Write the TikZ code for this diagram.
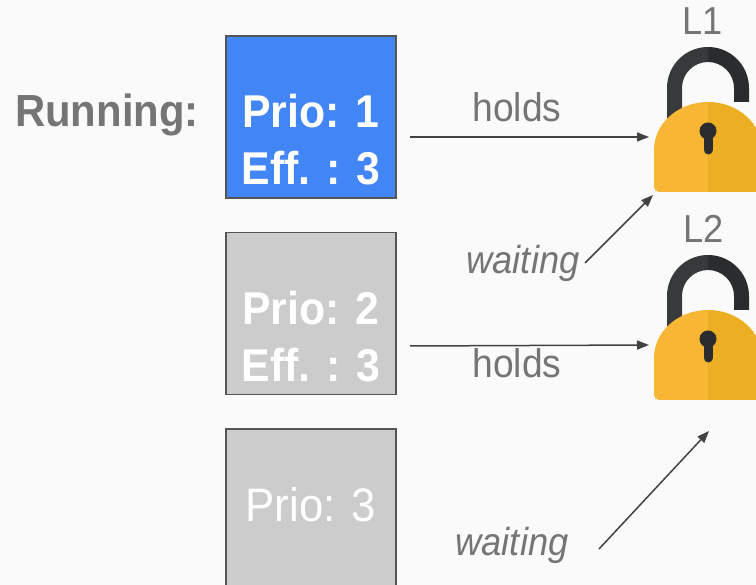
\documentclass[tikz,border=0pt]{standalone}
\usepackage{fontspec}
\setmainfont{Liberation Sans}[FakeStretch=0.93]
\usetikzlibrary{positioning,arrows.meta}
\definecolor{bg}{HTML}{FAFAFA}
\definecolor{runblue}{HTML}{4285F4}
\definecolor{idlegray}{HTML}{CCCCCC}
\definecolor{boxline}{HTML}{555555}
\definecolor{txtgray}{HTML}{757575}
\definecolor{arrowgray}{HTML}{424242}
\definecolor{shackleL}{HTML}{363A3A}
\definecolor{shackleR}{HTML}{2B2C2E}
\definecolor{bodyL}{HTML}{F7B634}
\definecolor{bodyR}{HTML}{ECAE23}

\tikzset{
	task/.style={draw=boxline, line width=1.5pt, minimum width=170pt, minimum height=162pt, inner sep=0pt},
	tasktext/.style={text=white, font=\bfseries\fontsize{46}{57}\selectfont, align=center},
	note/.style={text=txtgray, font=\fontsize{40}{46}\selectfont, anchor=base},
	link/.style={draw=arrowgray, line width=1.5pt, -{Triangle[length=12pt,width=9pt]}},
	lock/.pic={
		\fill[shackleL] (-41,19) -- (-41,-43) arc[start angle=180,end angle=270,radius=41] -- (0,-69) arc[start angle=270,end angle=180,radius=26] -- (-26,19) -- cycle;
		\fill[shackleR] (0,-84) arc[start angle=270,end angle=360,radius=41] -- (41,-29) -- (26,-29) -- (26,-43) arc[start angle=0,end angle=-90,radius=26] -- cycle;
		\fill[bodyL] (0,-29) arc[start angle=270,end angle=180,x radius=54,y radius=48] -- (-54,56) arc[start angle=180,end angle=90,radius=5] -- (0,61) -- cycle;
		\fill[bodyR] (0,-29) arc[start angle=270,end angle=360,x radius=54,y radius=48] -- (54,56) arc[start angle=0,end angle=90,radius=5] -- (0,61) -- cycle;
		\fill[shackleR] (0,0) circle[radius=8.5];
		\draw[shackleR, line width=9pt, line cap=round] (0,0) -- (0,19);
		\coordinate (-hold) at (-59,6);
		\coordinate (-wait) at (-55,64);
	}
}

\begin{document}
\begin{tikzpicture}[x=1pt, y=-1pt]
	\useasboundingbox (0,0) rectangle (756,585);
	\fill[bg] (0,0) rectangle (756,585);
	\clip (0,0) rectangle (756,585);

	\node[anchor=base, text=txtgray, font=\bfseries\fontsize{45}{52}\selectfont] (run) at (107,127) {Running:};

	\node[task, fill=runblue] (b1) at (311,117) {};
	\node[task, fill=idlegray, below=33pt of b1] (b2) {};
	\node[task, fill=idlegray, below=33pt of b2] (b3) {};
	\node[tasktext] (t1) at ([yshift=-23pt]b1.center) {Prio: 1\\Eff. : 3};
	\node[tasktext] (t2) at ([yshift=-23pt]b2.center) {Prio: 2\\Eff. : 3};
	\node[text=white, font=\fontsize{47}{57}\selectfont] (t3) at ([yshift=5pt]b3.center) {Prio: 3};

	\pic (k1) at (708,131) {lock};
	\pic (k2) at (708,339) {lock};
	\node[note, font=\fontsize{39}{44}\selectfont] (L1) at (703,35) {L1};
	\node[note, font=\fontsize{39}{44}\selectfont] (L2) at (704,243) {L2};

	\node[note] (h1) at (517,122) {holds};
	\node[note] (h2) at (517,378) {holds};
	\node[note, font=\itshape\fontsize{39}{44}\selectfont] (w1) at (523,274) {waiting};
	\node[note, font=\itshape\fontsize{39}{44}\selectfont] (w2) at (512,555) {waiting};

	\coordinate (s1) at (410,137);
	\coordinate (s2) at (410,346);
	\coordinate (s3) at (585,263);
	\coordinate (s4) at (599,549);
	\coordinate (e4) at (709,431);

	\draw[link] (s1) -- (k1-hold);
	\draw[link] (s2) -- (k2-hold);
	\draw[link] (s3) -- (k1-wait);
	\draw[link] (s4) -- (e4);
\end{tikzpicture}
\end{document}
